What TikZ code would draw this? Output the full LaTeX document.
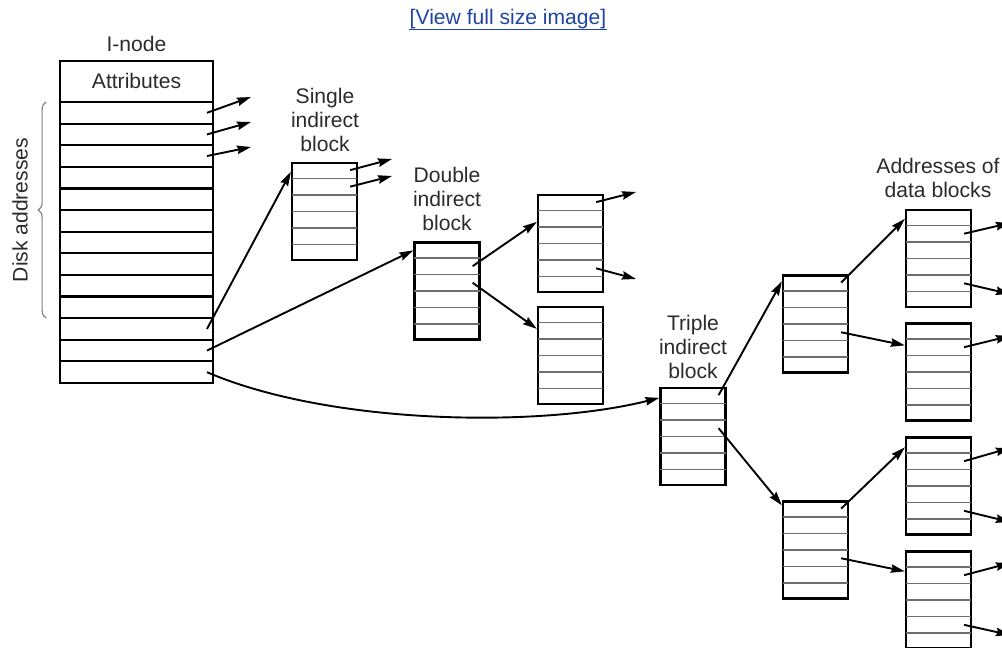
\documentclass[tikz,border=0pt]{standalone}
\usepackage{fontspec}
\setmainfont{Liberation Sans}
\usetikzlibrary{arrows.meta,calc,decorations.pathreplacing}
\definecolor{LabelGray}{HTML}{2B2B2B}
\definecolor{RowGray}{HTML}{6E6E6E}
\definecolor{LinkBlue}{HTML}{1E44A6}

% block of six address slots, with a coordinate near the right end of each slot
\newcommand{\ptrblock}[2]{%
  \node[blockbox] (#1) at (#2) {};
  \foreach \k in {1,...,5}
    \draw[rowline] ($(#1.north west)!\k/6!(#1.south west)$) -- ($(#1.north east)!\k/6!(#1.south east)$);
  \foreach \k in {1,...,6}
    \coordinate (#1-\k) at ($(#1.north east)!{(\k-0.5)/6}!(#1.south east)+(-8,0)$);
}

\begin{document}
\begin{tikzpicture}[x=0.025cm,y=-0.025cm,font=\fontsize{15}{17}\selectfont,
  ptr/.style={-{Stealth[length=10pt,width=6pt,inset=1.2pt]},line width=1.35pt},
  blockbox/.style={draw,line width=1.6pt,minimum width=1.625cm,minimum height=2.425cm,inner sep=0pt},
  rowline/.style={RowGray,line width=1.1pt,shorten <=0.8pt,shorten >=0.8pt},
  lbl/.style={LabelGray,align=center,inner sep=0pt}]
  \useasboundingbox (0,0) rectangle (1002,648);
  \clip (0,0) rectangle (1002,648);

  \node[LinkBlue,anchor=base,inner sep=0pt] (viewlink) at (508,25) {[View full size image]};
  \draw[LinkBlue,line width=0.8pt] ([yshift=-3.5pt]viewlink.base west) -- ([yshift=-3.5pt]viewlink.base east);

  % i-node
  \node[draw,line width=1.6pt,minimum width=3.825cm,minimum height=8.05cm,inner sep=0pt] (inode) at (136.5,222) {};
  \node[lbl] (inodetitle) at (136.5,44) {I-node};
  \node[lbl] (attr) at (136.5,81) {Attributes};
  \draw[line width=1.5pt] (60,102) -- (213,102);
  \foreach \k in {1,...,12}
    \draw[line width=1.5pt] (60,{102+\k*21.615}) -- (213,{102+\k*21.615});
  \foreach \k in {1,...,13}
    \coordinate (in-\k) at (207,{102+(\k-0.5)*21.615});
  \draw[decorate,decoration={brace,amplitude=5.5pt},LabelGray!60,line width=0.8pt] (46,318) -- (46,102);
  \node[lbl,rotate=90] (diskaddr) at (20,210) {Disk addresses};

  % direct addresses
  \coordinate (direct-1) at (251,97);
  \coordinate (direct-2) at (251,122);
  \coordinate (direct-3) at (251,147);
  \foreach \k in {1,2,3}
    \draw[ptr] (in-\k) -- (direct-\k);

  % indirect blocks
  \ptrblock{single}{324.5,211.5}
  \ptrblock{double}{447,291}
  \ptrblock{dblA}{570.5,243.5}
  \ptrblock{dblB}{570.5,355.5}
  \ptrblock{triple}{693,436.5}
  \ptrblock{trpC}{815.5,324}
  \ptrblock{trpD}{815.5,550}
  \ptrblock{dataE}{938.5,258.5}
  \ptrblock{dataF}{938.5,372}
  \ptrblock{dataG}{938.5,486}
  \ptrblock{dataH}{938.5,600}

  \node[lbl] (singletext) at (325,120) {Single\\indirect\\block};
  \node[lbl] (doubletext) at (447,199) {Double\\indirect\\block};
  \node[lbl] (tripletext) at (693,347) {Triple\\indirect\\block};
  \node[lbl] (datatext) at (938,178) {Addresses of\\data blocks};

  \draw[ptr] (in-11) -- ([yshift=-0.25cm]single.north west);
  \draw[ptr] (in-12) -- ([yshift=-0.225cm]double.north west);
  \draw[ptr] (in-13) .. controls (330,425) and (540,428) .. ([yshift=-0.275cm]triple.north west);

  \coordinate (single-out1) at (392,159);
  \coordinate (single-out2) at (392,176);
  \draw[ptr] (single-1) -- (single-out1);
  \draw[ptr] (single-2) -- (single-out2);

  \draw[ptr] (double-2) -- ([yshift=-0.7cm]dblA.north west);
  \draw[ptr] (double-3) -- ([yshift=-0.575cm]dblB.north west);
  \coordinate (dblA-out1) at (636,192);
  \coordinate (dblA-out5) at (636,279);
  \draw[ptr] (dblA-1) -- (dblA-out1);
  \draw[ptr] (dblA-5) -- (dblA-out5);

  \draw[ptr] (triple-1) -- ([yshift=-0.175cm]trpC.north west);
  \draw[ptr] (triple-3) -- ([yshift=-0.125cm]trpD.north west);
  \draw[ptr] (trpC-1) -- ([yshift=-0.25cm]dataE.north west);
  \draw[ptr] (trpC-4) -- ([yshift=-0.575cm]dataF.north west);
  \draw[ptr] (trpD-1) -- ([yshift=-0.275cm]dataG.north west);
  \draw[ptr] (trpD-4) -- ([yshift=-0.525cm]dataH.north west);

  % pointers to the data blocks, running off the page
  \coordinate (dataE-out2) at (1010,223);
  \coordinate (dataE-out5) at (1010,294);
  \coordinate (dataF-out2) at (1010,336);
  \coordinate (dataG-out2) at (1010,448);
  \coordinate (dataG-out5) at (1010,522);
  \coordinate (dataH-out2) at (1010,563);
  \coordinate (dataH-out5) at (1010,635);
  \foreach \b/\r in {dataE/2,dataE/5,dataF/2,dataG/2,dataG/5,dataH/2,dataH/5}
    \draw[ptr] (\b-\r) -- (\b-out\r);
\end{tikzpicture}
\end{document}
